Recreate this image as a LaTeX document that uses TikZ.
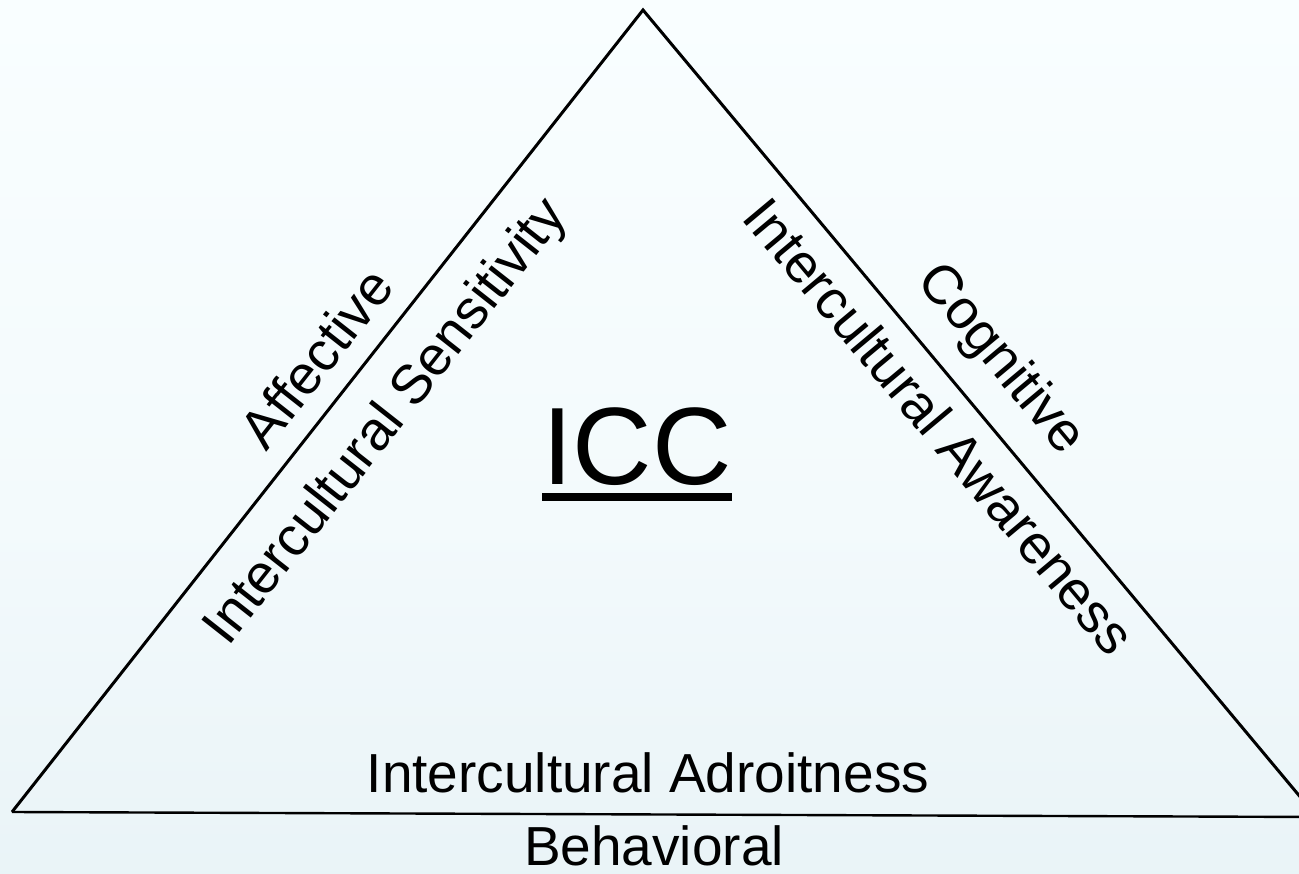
\documentclass[tikz,border=0pt]{standalone}
\usepackage{fontspec}
\setmainfont{Liberation Sans}
\definecolor{bgtop}{HTML}{F9FEFF}
\definecolor{bgmid}{HTML}{F3FAFC}
\definecolor{bglow}{HTML}{E7F2F6}
\definecolor{bgbot}{HTML}{DCEBF2}
\pgfdeclareverticalshading{bgshade}{100bp}{color(0bp)=(bgbot); color(20bp)=(bglow); color(45bp)=(bgmid); color(75bp)=(bgtop); color(100bp)=(bgtop)}
\tikzset{
  lbl/.style={font=\fontsize{55}{66}\selectfont, inner sep=0pt, text=black},
  edge/.style={line width=3pt, black, line join=miter},
}
\begin{document}
\begin{tikzpicture}[x=1pt, y=-1pt]
  \shade[shading=bgshade] (0,0) rectangle (1299,874);
  \useasboundingbox (0,0) rectangle (1299,874);
  \clip (0,0) rectangle (1299,874);
  \coordinate (A) at (643,10);
  \coordinate (BL) at (12,812);
  \coordinate (R) at (1317,817);
  \draw[edge] (R) -- (A) -- (BL);
  \draw[line width=2.4pt, black] (BL) -- (R);
  \node[lbl, rotate=51.8] (aff) at (316,358) {Affective};
  \node[lbl, rotate=51.8] (ics) at (387,423) {Intercultural Sensitivity};
  \node[lbl, rotate=-50.1] (cog) at (1000,360) {Cognitive};
  \node[lbl, rotate=-50.1] (ica) at (940,426) {Intercultural Awareness};
  \node[lbl, anchor=base] (ida) at (648,792) {Intercultural Adroitness};
  \node[lbl, anchor=base] (beh) at (654,865) {Behavioral};
  \node[font=\fontsize{110}{130}\selectfont, inner sep=0pt, anchor=base] (icc) at (637,485) {ICC};
  \draw[line width=8pt] ([yshift=-12pt]icc.base west) -- ([yshift=-12pt]icc.base east);
\end{tikzpicture}
\end{document}
